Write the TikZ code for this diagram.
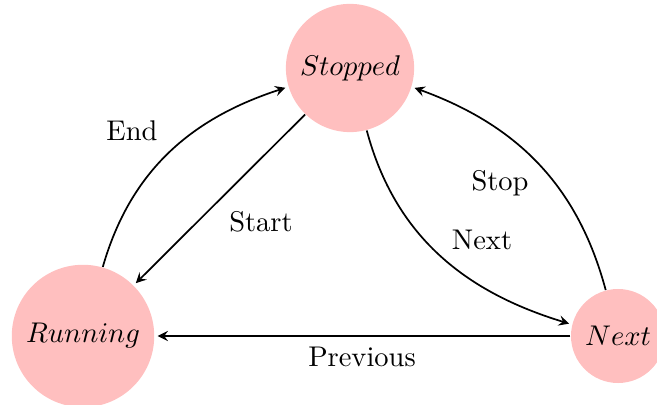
\documentclass[tikz,border=0pt]{standalone}
\usetikzlibrary{arrows}
\begin{document}
\begin{tikzpicture}[x=0.351pt,y=-0.351pt,>=stealth,
  state/.style={circle,fill=red!25,draw=none,inner sep=0pt},
  edgelabel/.style={inner sep=0pt},
  conn/.style={->,thick,line width=0.6pt,shorten >=1pt}]
  \useasboundingbox (0,0) rectangle (657,405);
  % states
  \node[state,minimum size=45pt] (stopped) at (350,68) {$Stopped$};
  \node[state,minimum size=50pt] (running) at (83,336) {$Running$};
  \node[state,minimum size=33pt] (next) at (618,336) {$Next$};
  % transitions
  \draw[conn] (stopped.226) -- (running.45);
  \draw[conn] (running.74) to[out=74,in=198] (stopped.197);
  \draw[conn] (stopped.285) to[out=-75,in=163] (next.166);
  \draw[conn] (next.105) to[out=105,in=-20] (stopped.343);
  \draw[conn] (next.west) -- (running.east);
  % labels
  \node[edgelabel] (lend) at (132,131) {End};
  \node[edgelabel] (lstart) at (261,222) {Start};
  \node[edgelabel] (lstop) at (500,183) {Stop};
  \node[edgelabel] (lnext) at (482,240) {Next};
  \node[edgelabel] (lprev) at (362,357) {Previous};
\end{tikzpicture}
\end{document}
